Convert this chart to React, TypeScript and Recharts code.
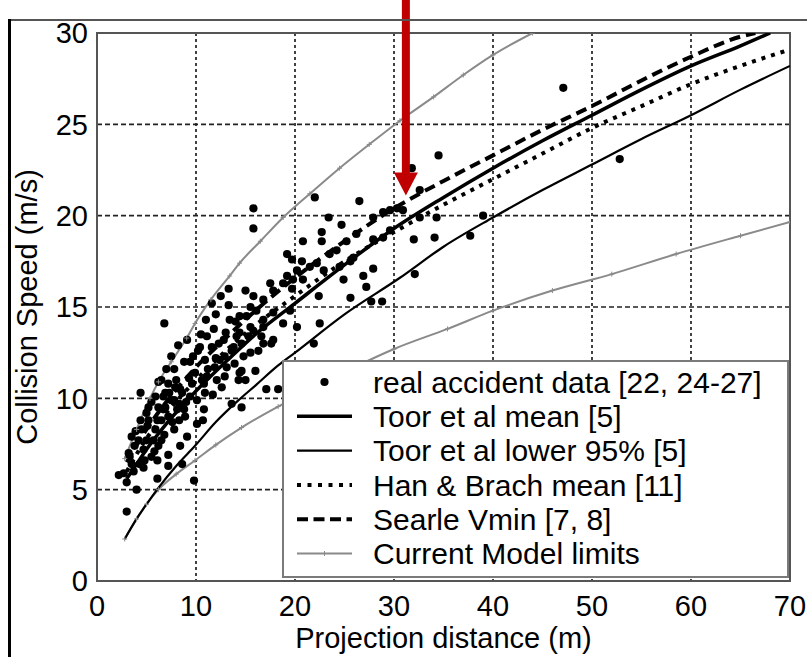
import React from 'react';
import {
  ComposedChart,
  Line,
  Scatter,
  XAxis,
  YAxis,
  CartesianGrid,
  ReferenceArea,
  ReferenceDot,
  Legend,
} from 'recharts';

const FONT = '"Liberation Sans", Arial, Helvetica, sans-serif';

const xTicks = [0, 10, 20, 30, 40, 50, 60, 70];
const yTicks = [0, 5, 10, 15, 20, 25, 30];

// real accident data: [projection distance (m), collision speed (m/s)]
const accidentPoints: [number, number][] = [
  [2.2, 5.8], [3.0, 5.4], [4.0, 5.0], [6.1, 5.6], [3.0, 3.8], [9.8, 5.5],
  [7.2, 6.9], [6.1, 6.6], [4.7, 6.2], [3.7, 6.0], [8.4, 7.4], [9.1, 7.9], [10.1, 8.6], [10.8, 9.4],
  [7.8, 8.3], [5.1, 8.5], [5.7, 7.7], [4.7, 7.2], [6.7, 9.4], [7.8, 9.9], [8.8, 9.4], [9.4, 10.1],
  [6.7, 10.1], [6.1, 8.8], [10.1, 9.9], [4.4, 10.3], [11.7, 10.2], [9.1, 13.2], [7.8, 11.6],
  [14.6, 9.5], [13.6, 9.7], [18.3, 10.5], [14.3, 11.0], [15.0, 11.0], [16.0, 11.5], [14.6, 11.5],
  [12.9, 11.2], [17.6, 13.0], [8.6, 6.4], [10.7, 8.8], [8.9, 9.0], [3.8, 7.4], [3.5, 7.9], [4.5, 8.3],
  [5.2, 8.8], [5.0, 7.7], [4.3, 6.4], [3.5, 6.4], [2.7, 5.9], [5.9, 8.3], [6.5, 8.8], [6.9, 9.5],
  [6.2, 9.5], [5.9, 10.1], [6.9, 10.3], [7.5, 9.9], [8.1, 9.4], [8.6, 10.3], [7.9, 10.6], [7.2, 10.8],
  [9.6, 10.8], [10.6, 11.0], [9.9, 11.4], [11.2, 11.6], [11.9, 11.7], [10.9, 12.1], [10.2, 12.6],
  [11.6, 12.8], [12.3, 13.0], [12.9, 12.3], [13.6, 12.6], [14.6, 13.0], [15.3, 13.4], [16.3, 12.6],
  [16.6, 13.4], [13.9, 11.9], [12.6, 10.6], [10.9, 10.3], [5.2, 9.5], [4.2, 7.7], [3.2, 7.0],
  [6.5, 7.7], [7.2, 9.0], [6.2, 7.4], [5.5, 6.8], [7.2, 6.3],
  [13.3, 16.0], [11.6, 15.2], [13.3, 15.1], [15.8, 15.6], [16.8, 15.4], [6.8, 14.1], [11.8, 13.8],
  [11.1, 13.4], [10.4, 12.8], [9.7, 12.3], [6.2, 10.9], [8.4, 10.5], [14.4, 11.4], [14.8, 12.3],
  [13.8, 12.8], [12.8, 13.2], [14.4, 13.6], [13.4, 14.3], [15.1, 14.5], [16.1, 14.8], [15.8, 13.7],
  [16.8, 13.9], [16.8, 13.0], [12.4, 12.1], [11.1, 11.2], [13.1, 11.7], [12.1, 11.0],
  [15.8, 20.4], [15.8, 19.3], [22.0, 21.0], [23.4, 19.9], [24.7, 19.5], [22.7, 19.1], [22.7, 18.6],
  [20.8, 18.6], [25.2, 18.6], [26.5, 20.8], [19.2, 17.9], [19.7, 17.6], [20.7, 17.5], [21.5, 17.2],
  [23.5, 17.9], [24.2, 18.1], [22.2, 17.4], [22.9, 17.0], [24.5, 17.2], [25.6, 17.5], [20.8, 16.5],
  [19.8, 16.5], [18.8, 16.3], [19.7, 16.0], [22.4, 15.6], [25.6, 15.5], [22.5, 14.1], [21.9, 13.0],
  [17.8, 15.9], [15.5, 15.0], [14.4, 14.5], [16.8, 14.3], [18.8, 14.1], [20.2, 13.9], [17.8, 14.7],
  [19.5, 14.8], [15.5, 13.9], [17.8, 13.2], [15.5, 12.5], [14.1, 13.4], [19.2, 16.7], [20.2, 17.0],
  [17.5, 16.3],
  [34.5, 23.3], [31.8, 22.6], [32.6, 21.4], [29.6, 20.3], [28.9, 20.2], [30.3, 20.4], [30.9, 20.3],
  [27.9, 19.9], [26.2, 19.0], [27.9, 18.7], [28.9, 18.8], [29.6, 19.2], [32.0, 18.7], [34.1, 18.8],
  [32.6, 19.9], [34.3, 19.9], [25.9, 17.7], [26.9, 16.7], [27.9, 17.1], [27.2, 16.1], [24.9, 16.5],
  [27.7, 15.3], [28.8, 15.3], [32.1, 16.8],
  [47.1, 27.0], [52.8, 23.1], [39.0, 20.0], [37.7, 18.9], [17.1, 10.5],
  [7.5, 12.3], [8.2, 12.9], [8.8, 12.0], [9.3, 11.1], [8.0, 11.0], [7.0, 11.6], [6.5, 11.0],
  [5.5, 9.8], [5.0, 9.2], [4.4, 8.8], [3.9, 8.2], [3.3, 6.8], [4.8, 6.6], [5.8, 7.1], [6.8, 8.0],
  [7.6, 8.7], [8.3, 8.8], [9.0, 9.8], [8.3, 9.7], [7.3, 10.3], [9.4, 12.0], [10.5, 13.5],
  [11.0, 14.3], [12.0, 14.6], [12.5, 15.6], [10.8, 10.8], [12.0, 12.2], [13.0, 13.6], [14.0, 14.2],
  [15.0, 15.9],
];

const toorMean: [number, number][] = [
  [3, 5.6], [4, 6.4], [5, 7.2], [7, 8.6], [10, 10.4], [13.4, 12.2], [16, 13.5], [20, 15.2],
  [24.5, 17.1], [30, 19.3], [35, 21.0], [40, 22.6], [45, 24.1], [50, 25.5], [55, 26.9],
  [60, 28.2], [65, 29.3], [68, 30.0],
];

const toorLower: [number, number][] = [
  [2.8, 2.3], [4, 3.4], [5, 4.2], [6.2, 5.1], [8, 6.3], [9.9, 7.4], [12, 8.7], [14.3, 9.9],
  [16, 10.7], [18.3, 11.8], [20, 12.5], [25, 14.6], [30.6, 16.6], [35, 18.3], [40, 19.9],
  [45, 21.4], [50, 22.8], [55, 24.2], [60, 25.5], [65, 26.9], [70, 28.2],
];

const hanBrachMean: [number, number][] = [
  [3, 6.0], [5, 7.8], [7, 9.2], [10, 11.0], [13, 12.6], [16, 14.0], [20, 15.6], [25, 17.5],
  [30, 19.1], [35, 20.6], [40, 22.0], [45, 23.4], [50, 24.8], [55, 26.0], [60, 27.2],
  [65, 28.2], [70, 29.1],
];

const searleVmin: [number, number][] = [
  [3, 6.5], [5, 8.3], [7, 9.8], [10, 11.7], [13, 13.3], [16, 14.8], [20, 16.6], [25, 18.6],
  [30, 20.4], [35, 21.9], [40, 23.3], [45, 24.7], [50, 26.0], [55, 27.4], [60, 28.7],
  [65, 29.8], [66.5, 30.0],
];

const modelUpper: [number, number][] = [
  [2.8, 6.7], [4, 8.3], [5.35, 10.0], [6.2, 10.9], [7.5, 12.0], [9.06, 13.3], [9.9, 14.1],
  [11.5, 15.4], [13.4, 16.7], [14.4, 17.4], [16.5, 18.6], [18.8, 19.9], [21.5, 21.2],
  [24.5, 22.6], [27.5, 23.9], [30.6, 25.2], [34, 26.5], [37, 27.7], [40, 28.8], [44, 30.0],
];

const modelLower: [number, number][] = [
  [2.8, 2.3], [4, 3.4], [5, 4.2], [6.2, 5.0], [8, 5.85], [9.9, 6.6], [12, 7.45], [14.6, 8.4],
  [18.3, 9.55], [22, 10.6], [26, 11.7], [30, 12.7], [35.4, 13.8], [40, 14.8], [46, 15.9],
  [52, 16.8], [58.5, 17.9], [65, 18.9], [70, 19.65],
];

const legendLabels = [
  'real accident data [22, 24-27]',
  'Toor et al mean [5]',
  'Toor et al lower 95% [5]',
  'Han & Brach mean [11]',
  'Searle Vmin [7, 8]',
  'Current Model limits',
];

const arrowTip: [number, number] = [31.2, 21.1];

const toRows = (pts: [number, number][]) => pts.map(([d, v]) => ({ d, v }));

const GRAY = '#8a8a8a';
const DOT_R = 4.1;

const renderDot = (p: any) => <circle cx={p.cx} cy={p.cy} r={DOT_R} fill="#000" />;

const renderPlus = (p: any) => (
  <path
    key={`p-${p.index}`}
    d={`M${p.cx - 2.5},${p.cy}h5M${p.cx},${p.cy - 2.5}v5`}
    stroke={GRAY}
    strokeWidth={1}
    fill="none"
  />
);

const renderArrow = (p: any) => {
  const { cx, cy } = p;
  const headH = 23;
  const headHalf = 12;
  const shaftHalf = 4;
  const top = cy - 200;
  return (
    <path
      d={`M${cx - shaftHalf},${top} L${cx + shaftHalf},${top} L${cx + shaftHalf},${cy - headH} L${cx + headHalf},${cy - headH} L${cx},${cy} L${cx - headHalf},${cy - headH} L${cx - shaftHalf},${cy - headH} Z`}
      fill="#c00000"
      stroke="none"
    />
  );
};

const LegendBox = () => {
  const rowH = 34.3;
  const y0 = 22;
  const sx1 = 15;
  const sx2 = 70;
  const styles = [
    { kind: 'dot' },
    { kind: 'line', w: 3.5, dash: undefined, color: '#000' },
    { kind: 'line', w: 2.2, dash: undefined, color: '#000' },
    { kind: 'line', w: 4, dash: '4 6.5', color: '#000' },
    { kind: 'line', w: 4, dash: '11 5.5', color: '#000' },
    { kind: 'gray' },
  ];
  return (
    <div
      style={{
        width: 507,
        height: 218,
        boxSizing: 'border-box',
        border: '2px solid #7a7a7a',
        background: '#fff',
      }}
    >
      <svg width={503} height={214} style={{ display: 'block', marginLeft: -2, marginTop: -2, overflow: 'visible' }}>
        {legendLabels.map((label, i) => {
          const cy = y0 + i * rowH;
          const s: any = styles[i];
          return (
            <g key={label}>
              {s.kind === 'dot' && <circle cx={(sx1 + sx2) / 2} cy={cy} r={DOT_R} fill="#000" />}
              {s.kind === 'line' && (
                <line x1={sx1} x2={sx2} y1={cy} y2={cy} stroke={s.color} strokeWidth={s.w} strokeDasharray={s.dash} />
              )}
              {s.kind === 'gray' && (
                <g>
                  <line x1={sx1} x2={sx2} y1={cy} y2={cy} stroke={GRAY} strokeWidth={2} />
                  <path d={`M${(sx1 + sx2) / 2 - 2.5},${cy}h5M${(sx1 + sx2) / 2},${cy - 2.5}v5`} stroke={GRAY} strokeWidth={1} />
                </g>
              )}
              <text x={91} y={cy + 10.7} fontSize={30} fontFamily={FONT} fill="#000">
                {label}
              </text>
            </g>
          );
        })}
      </svg>
    </div>
  );
};

export default function App() {
  return (
    <div style={{ position: 'absolute', left: 0, top: 0, width: 807, height: 657, background: '#fff', overflow: 'hidden' }}>
      <ComposedChart
        width={807}
        height={657}
        margin={{ top: 33, right: 17, bottom: 0, left: 0 }}
        style={{ fontFamily: FONT }}
      >
        <CartesianGrid horizontal vertical={false} stroke="#222" strokeDasharray="5 3" strokeWidth={1.7} />
        <CartesianGrid horizontal={false} vertical stroke="#222" strokeDasharray="3 3" strokeWidth={1.7} />
        <XAxis
          dataKey="d"
          type="number"
          domain={[0, 70]}
          ticks={xTicks}
          allowDataOverflow
          height={76}
          tickSize={0}
          tickMargin={14}
          tickLine={false}
          axisLine={{ stroke: '#555', strokeWidth: 2 }}
          tick={{ fill: '#000', fontSize: 29, fontFamily: FONT }}
          label={{ value: 'Projection distance (m)', position: 'insideBottom', offset: 9, fill: '#000', fontSize: 29, fontFamily: FONT }}
        />
        <YAxis
          dataKey="v"
          type="number"
          domain={[0, 30]}
          ticks={yTicks}
          allowDataOverflow
          width={97}
          tickSize={0}
          tickMargin={9}
          tickLine={false}
          axisLine={{ stroke: '#555', strokeWidth: 2 }}
          tick={{ fill: '#000', fontSize: 29, fontFamily: FONT }}
          label={{
            value: 'Collision Speed (m/s)',
            angle: -90,
            position: 'insideLeft',
            offset: 27,
            fill: '#000',
            fontSize: 29,
            fontFamily: FONT,
            style: { textAnchor: 'middle' },
          }}
        />
        <ReferenceArea x1={0} x2={70} y1={0} y2={30} fill="none" stroke="#555" strokeWidth={2} />
        <Scatter data={toRows(accidentPoints)} dataKey="v" fill="#000" shape={renderDot} isAnimationActive={false} />
        <Line data={toRows(modelLower)} dataKey="v" type="monotone" stroke={GRAY} strokeWidth={2} dot={renderPlus} activeDot={false} isAnimationActive={false} />
        <Line data={toRows(modelUpper)} dataKey="v" type="monotone" stroke={GRAY} strokeWidth={2} dot={renderPlus} activeDot={false} isAnimationActive={false} />
        <Line data={toRows(toorLower)} dataKey="v" type="monotone" stroke="#000" strokeWidth={2.2} dot={false} activeDot={false} isAnimationActive={false} />
        <Line data={toRows(hanBrachMean)} dataKey="v" type="monotone" stroke="#000" strokeWidth={4} strokeDasharray="4 6" dot={false} activeDot={false} isAnimationActive={false} />
        <Line data={toRows(toorMean)} dataKey="v" type="monotone" stroke="#000" strokeWidth={3.5} dot={false} activeDot={false} isAnimationActive={false} />
        <Line data={toRows(searleVmin)} dataKey="v" type="monotone" stroke="#000" strokeWidth={4} strokeDasharray="11 6" dot={false} activeDot={false} isAnimationActive={false} />
        <ReferenceDot x={arrowTip[0]} y={arrowTip[1]} r={0} shape={renderArrow} ifOverflow="visible" />
        <Legend
          layout="horizontal"
          verticalAlign="middle"
          align="center"
          content={() => <LegendBox />}
          wrapperStyle={{ position: 'absolute', left: 282, top: 360, width: 507, height: 218 }}
        />
      </ComposedChart>
      <div style={{ position: 'absolute', left: 8, top: 19, width: 799, height: 2, background: '#555' }} />
      <div style={{ position: 'absolute', left: 8, top: 19, width: 3, height: 638, background: '#000' }} />
    </div>
  );
}
